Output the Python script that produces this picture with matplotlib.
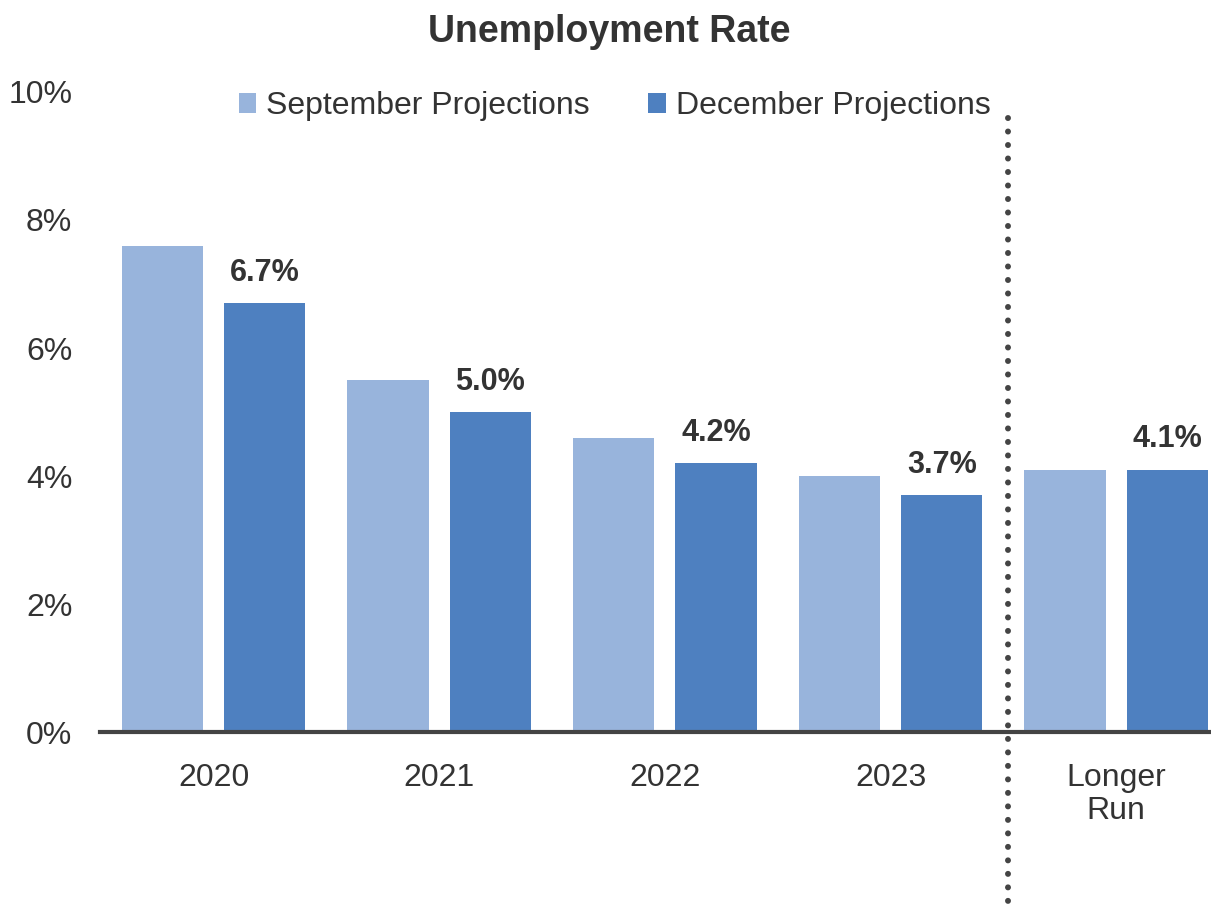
import numpy as np
import matplotlib.pyplot as plt
import matplotlib.transforms as mtransforms

plt.rcParams['font.family'] = ['Liberation Sans', 'DejaVu Sans']

# Dados
categorias = ['2020', '2021', '2022', '2023', 'Longer\nRun']
setembro = [7.6, 5.5, 4.6, 4.0, 4.1]
dezembro = [6.7, 5.0, 4.2, 3.7, 4.1]
rotulos_dez = ['6.7%', '5.0%', '4.2%', '3.7%', '4.1%']
y_ticks = [0, 2, 4, 6, 8, 10]

cor_set = '#98B4DC'
cor_dez = '#4E80C0'
cor_texto = '#333333'

fig = plt.figure(figsize=(12.11, 9.08), dpi=100)
ax = fig.add_axes([0.0826, 0.1938, 0.9174, 0.7049])

x = np.arange(len(categorias))
largura = 0.36
desloc = 0.227

ax.bar(x - desloc, setembro, largura, color=cor_set, label='September Projections')
ax.bar(x + desloc, dezembro, largura, color=cor_dez, label='December Projections')

for xi, v, r in zip(x, dezembro, rotulos_dez):
    ax.annotate(r, (xi + desloc, v), xytext=(0, 11), textcoords='offset points',
                ha='center', va='bottom', fontsize=22, fontweight='bold', color=cor_texto)

ax.set_xlim(-0.503, 4.42)
ax.set_ylim(0, 10)
ax.set_yticks(y_ticks)
ax.set_yticklabels([f'{t}%' for t in y_ticks])
ax.set_xticks(x)
ax.set_xticklabels(categorias, linespacing=1.15)
ax.tick_params(axis='both', length=0, labelsize=23, labelcolor=cor_texto)
ax.tick_params(axis='x', pad=22)
ax.tick_params(axis='y', pad=20)

for s in ['top', 'right', 'left']:
    ax.spines[s].set_visible(False)
ax.spines['bottom'].set_color('#444444')
ax.spines['bottom'].set_linewidth(3)

# Linha pontilhada separando "Longer Run" (de cima para baixo)
trans = mtransforms.blended_transform_factory(ax.transData, ax.transAxes)
ax.plot([3.52, 3.52], [0.959, -0.285], transform=trans, clip_on=False,
        color='#444444', linewidth=4.3, linestyle=(0, (0.01, 2.25)),
        dash_capstyle='round')

ax.legend(loc='upper center', bbox_to_anchor=(0.463, 1.046), ncol=2, frameon=False,
          fontsize=23, handlelength=0.55, handleheight=0.55, handletextpad=0.3,
          columnspacing=1.85, labelcolor=cor_texto)

fig.text(0.503, 0.965, 'Unemployment Rate', ha='center', va='center',
         fontsize=27, fontweight='bold', color=cor_texto)

fig.savefig('out.png', dpi=100)
